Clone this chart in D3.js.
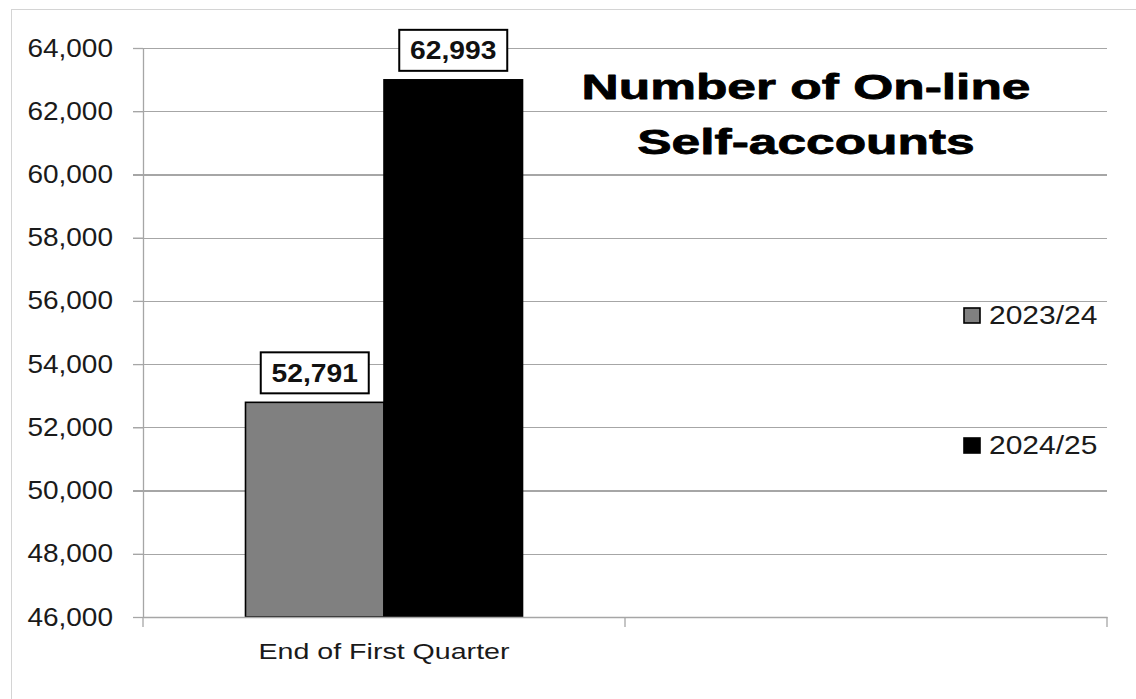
<!DOCTYPE html>
<html><head><meta charset="utf-8">
<script src="https://cdn.jsdelivr.net/npm/d3@7/dist/d3.min.js"></script>
<style>html,body{margin:0;padding:0;background:#fff;} svg{display:block;}</style>
</head><body>
<svg id="chart" width="1136" height="699"></svg>
<script>
// ---- data ----
const categories = ["End of First Quarter", ""];
const seriesNames = ["2023/24", "2024/25"];
const values2023 = [52791, null];
const values2024 = [62993, null];
const yTicks = [46000, 48000, 50000, 52000, 54000, 56000, 58000, 60000, 62000, 64000];
const titleLines = ["Number of On-line", "Self-accounts"];

// ---- layout / style ----
const W = 1136, H = 699;
const plot = {left: 143, right: 1107, top: 48, bottom: 617};
const colors = {"2023/24": "#808080", "2024/25": "#000000"};
const gridColor = "#a6a6a6";
const font = "'Liberation Sans', Arial, sans-serif";

const svg = d3.select("#chart");

// outer chart-area border (right/bottom edges fall outside the picture)
svg.append("rect").attr("x", 11.5).attr("y", 9.5).attr("width", 1400).attr("height", 1000)
  .attr("fill", "#fff").attr("stroke", "#d4d4d4").attr("stroke-width", 1);

const y = d3.scaleLinear().domain([yTicks[0], yTicks[yTicks.length - 1]]).range([plot.bottom, plot.top]);
const x0 = d3.scaleBand().domain(categories).range([plot.left, plot.right]).paddingInner(0).paddingOuter(0);
const x1 = d3.scaleBand().domain(seriesNames).range([0, x0.bandwidth()]).paddingInner(0).paddingOuter(0.74);

const table = categories.map((c, i) => ({cat: c, vals: [
  {s: seriesNames[0], v: values2023[i]},
  {s: seriesNames[1], v: values2024[i]}
]}));

// gridlines
const grid = svg.append("g").attr("transform", `translate(${plot.right},0)`)
  .call(d3.axisLeft(y).tickValues(yTicks).tickSize(plot.right - plot.left + 10).tickFormat(""));
grid.select(".domain").remove();
grid.selectAll("line").attr("stroke", gridColor).attr("stroke-width", 1.3).attr("shape-rendering", "crispEdges");

// bars
const barG = svg.append("g");
table.forEach(row => {
  row.vals.filter(d => d.v != null).forEach(d => {
    barG.append("rect")
      .attr("x", x0(row.cat) + x1(d.s))
      .attr("y", y(d.v))
      .attr("width", x1.bandwidth())
      .attr("height", y(yTicks[0]) - y(d.v))
      .attr("fill", colors[d.s])
      .attr("stroke", "#000").attr("stroke-width", 1.6);
  });
});

// y axis
const yAxis = svg.append("g").attr("transform", `translate(${plot.left},0)`)
  .call(d3.axisLeft(y).tickValues(yTicks).tickFormat(d3.format(",")).tickSize(10).tickPadding(20).tickSizeOuter(0));
yAxis.attr("font-family", font).attr("font-size", 25);
yAxis.select(".domain").attr("stroke", gridColor).attr("stroke-width", 1.3);
yAxis.selectAll(".tick line").attr("stroke", gridColor).attr("stroke-width", 1.3);
const sxTick = 1.12;
yAxis.selectAll(".tick text").attr("fill", "#1a1a1a").attr("x", -30 / sxTick).attr("transform", `scale(${sxTick},1)`);

// x axis
const xAxis = svg.append("g").attr("transform", `translate(0,${plot.bottom})`)
  .call(d3.axisBottom(x0).tickSize(0).tickSizeOuter(0));
xAxis.attr("font-family", font).attr("font-size", 22);
xAxis.select(".domain").attr("stroke", gridColor).attr("stroke-width", 1.3);
const sxCat = 1.3;
xAxis.selectAll(".tick text").attr("fill", "#1a1a1a").attr("y", 42).attr("dy", 0).attr("transform", `scale(${sxCat},1)`);
const boundaries = categories.map(c => x0(c)).concat([x0.range()[1]]);
xAxis.selectAll(".bound").data(boundaries).join("line").attr("class", "bound")
  .attr("x1", d => d).attr("x2", d => d).attr("y1", 0).attr("y2", 10)
  .attr("stroke", gridColor).attr("stroke-width", 1.3);

// data labels
const sxLab = 1.13;
table.forEach(row => {
  row.vals.filter(d => d.v != null).forEach(d => {
    const cx = x0(row.cat) + x1(d.s) + x1.bandwidth() / 2;
    const boxW = 108, boxH = 41;
    const by = y(d.v) - 9 - boxH;
    const g = svg.append("g").attr("transform", `translate(${cx},${by})`);
    g.append("rect").attr("x", -boxW / 2).attr("y", 0).attr("width", boxW).attr("height", boxH)
      .attr("fill", "#fff").attr("stroke", "#000").attr("stroke-width", 2);
    g.append("text").attr("transform", `translate(0,${boxH / 2 + 9}) scale(${sxLab},1)`)
      .attr("text-anchor", "middle").attr("font-family", font).attr("font-weight", "bold")
      .attr("font-size", 25).attr("fill", "#111").text(d3.format(",")(d.v));
  });
});

// title
const sxTitle = 1.43;
titleLines.forEach((t, i) => {
  svg.append("text").attr("transform", `translate(806,${99 + i * 55}) scale(${sxTitle},1)`)
    .attr("text-anchor", "middle").attr("font-family", font)
    .attr("font-weight", "bold").attr("font-size", 36).attr("fill", "#000")
    .attr("stroke", "#000").attr("stroke-width", 0.8).attr("stroke-linejoin", "round").text(t);
});

// legend
const legendY = [315, 445];
const sxLeg = 1.2;
seriesNames.forEach((s, i) => {
  const g = svg.append("g").attr("transform", `translate(963,${legendY[i]})`);
  g.append("rect").attr("x", 1).attr("y", -7).attr("width", 16).attr("height", 15)
    .attr("fill", colors[s]).attr("stroke", "#000").attr("stroke-width", 1.6);
  g.append("text").attr("transform", `translate(26,9) scale(${sxLeg},1)`)
    .attr("font-family", font).attr("font-size", 25).attr("fill", "#1a1a1a").text(s);
});
</script>
</body></html>
